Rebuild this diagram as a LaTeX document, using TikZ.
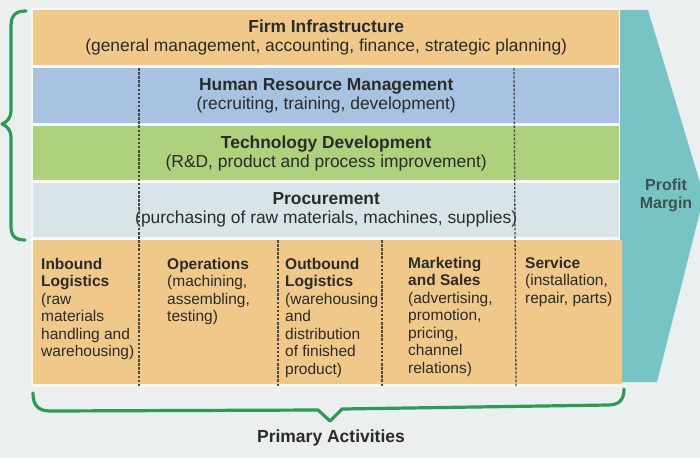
\documentclass[tikz,border=0pt]{standalone}
\usepackage{fontspec}
\setmainfont{Liberation Sans}
\definecolor{bandorange}{HTML}{F0C88A}
\definecolor{bandblue}{HTML}{A8C2E2}
\definecolor{bandgreen}{HTML}{ADD17C}
\definecolor{bandgray}{HTML}{D8E4E8}
\definecolor{marginteal}{HTML}{78C4C4}
\definecolor{bgcol}{HTML}{ECEFEF}
\definecolor{gapcol}{HTML}{F6F8F8}
\definecolor{bracegreen}{HTML}{2F9A55}
\definecolor{txt}{HTML}{2B2B2B}
\definecolor{margintxt}{HTML}{3E5254}
\begin{document}
\begin{tikzpicture}[x=1pt,y=-1pt,
  band/.style={anchor=north west,inner sep=0pt,minimum width=586pt,minimum height=55pt,
    align=center,text=txt,font=\fontsize{17.4}{19}\selectfont},
  column/.style={anchor=north west,inner sep=0pt,align=left,text=txt,
    font=\fontsize{15.5}{17.5}\selectfont},
  divider/.style={draw=black!72,line width=1.3pt,dash pattern=on 2.5pt off 1.6pt},
  bracestyle/.style={draw=bracegreen,line width=3.2pt,line cap=round,line join=round}]
\fill[bgcol] (0,0) rectangle (700,458);
\useasboundingbox (0,0) rectangle (700,458);
% backing behind bands (light gaps)
\fill[gapcol] (31,8) rectangle (621,387);
% profit margin arrow
\fill[marginteal] (620,10) -- (648,10) -- (704,196) -- (657,382) -- (620,382) -- cycle;
\node[font=\fontsize{16}{18}\selectfont\bfseries,text=margintxt,align=center,inner sep=0pt] (margin) at (666,195) {Profit\\Margin};
% support activity bands
\node[band,fill=bandorange] (firm) at (33,10) {\textbf{Firm Infrastructure}\\(general management, accounting, finance, strategic planning)};
\node[band,fill=bandblue] (hrm) at (33,68) {\textbf{Human Resource Management}\\(recruiting, training, development)};
\node[band,fill=bandgreen,minimum height=54pt] (tech) at (33,126) {\textbf{Technology Development}\\(R\&D, product and process improvement)};
\node[band,fill=bandgray,minimum height=54pt] (proc) at (33,183) {\textbf{Procurement}\\(purchasing of raw materials, machines, supplies)};
% primary band
\node[anchor=north west,inner sep=0pt,minimum width=589pt,minimum height=144pt,fill=bandorange] (primary) at (33,240) {};
% dividers
\draw[divider] (139,68) -- (139,386);
\draw[divider] (514,68) -- (516,386);
\draw[divider] (278,240) -- (278,386);
\draw[divider] (382,240) -- (382,386);
% primary columns
\node[column] (inbound) at (41,258) {\textbf{Inbound}\\\textbf{Logistics}\\(raw\\materials\\handling and\\warehousing)};
\node[column] (operations) at (167,258) {\textbf{Operations}\\(machining,\\assembling,\\testing)};
\node[column] (outbound) at (285,258) {\textbf{Outbound}\\\textbf{Logistics}\\(warehousing\\and\\distribution\\of finished\\product)};
\node[column] (marketing) at (408,257) {\textbf{Marketing}\\\textbf{and Sales}\\(advertising,\\promotion,\\pricing,\\channel\\relations)};
\node[column] (service) at (525,257) {\textbf{Service}\\(installation,\\repair, parts)};
% left brace
\draw[bracestyle] (26,11) .. controls (16,11) and (11,15) .. (11,26) -- (11,110)
  .. controls (11,118) and (7,122) .. (2,124) .. controls (7,126) and (11,130) .. (11,138)
  -- (11,226) .. controls (11,236) and (15,240) .. (25,240);
% bottom brace
\coordinate (bl) at (33,393);
\coordinate (br) at (624,389);
\draw[bracestyle] (bl) .. controls (33,405) and (38,411) .. (50,411) -- (318,410) -- (330,421)
  -- (342,409) -- (608,405) .. controls (619,405) and (624,400) .. (br);
\node[font=\fontsize{17.5}{20}\selectfont\bfseries,text=txt,inner sep=0pt] (primlabel) at (331,438) {Primary Activities};
\end{tikzpicture}
\end{document}
